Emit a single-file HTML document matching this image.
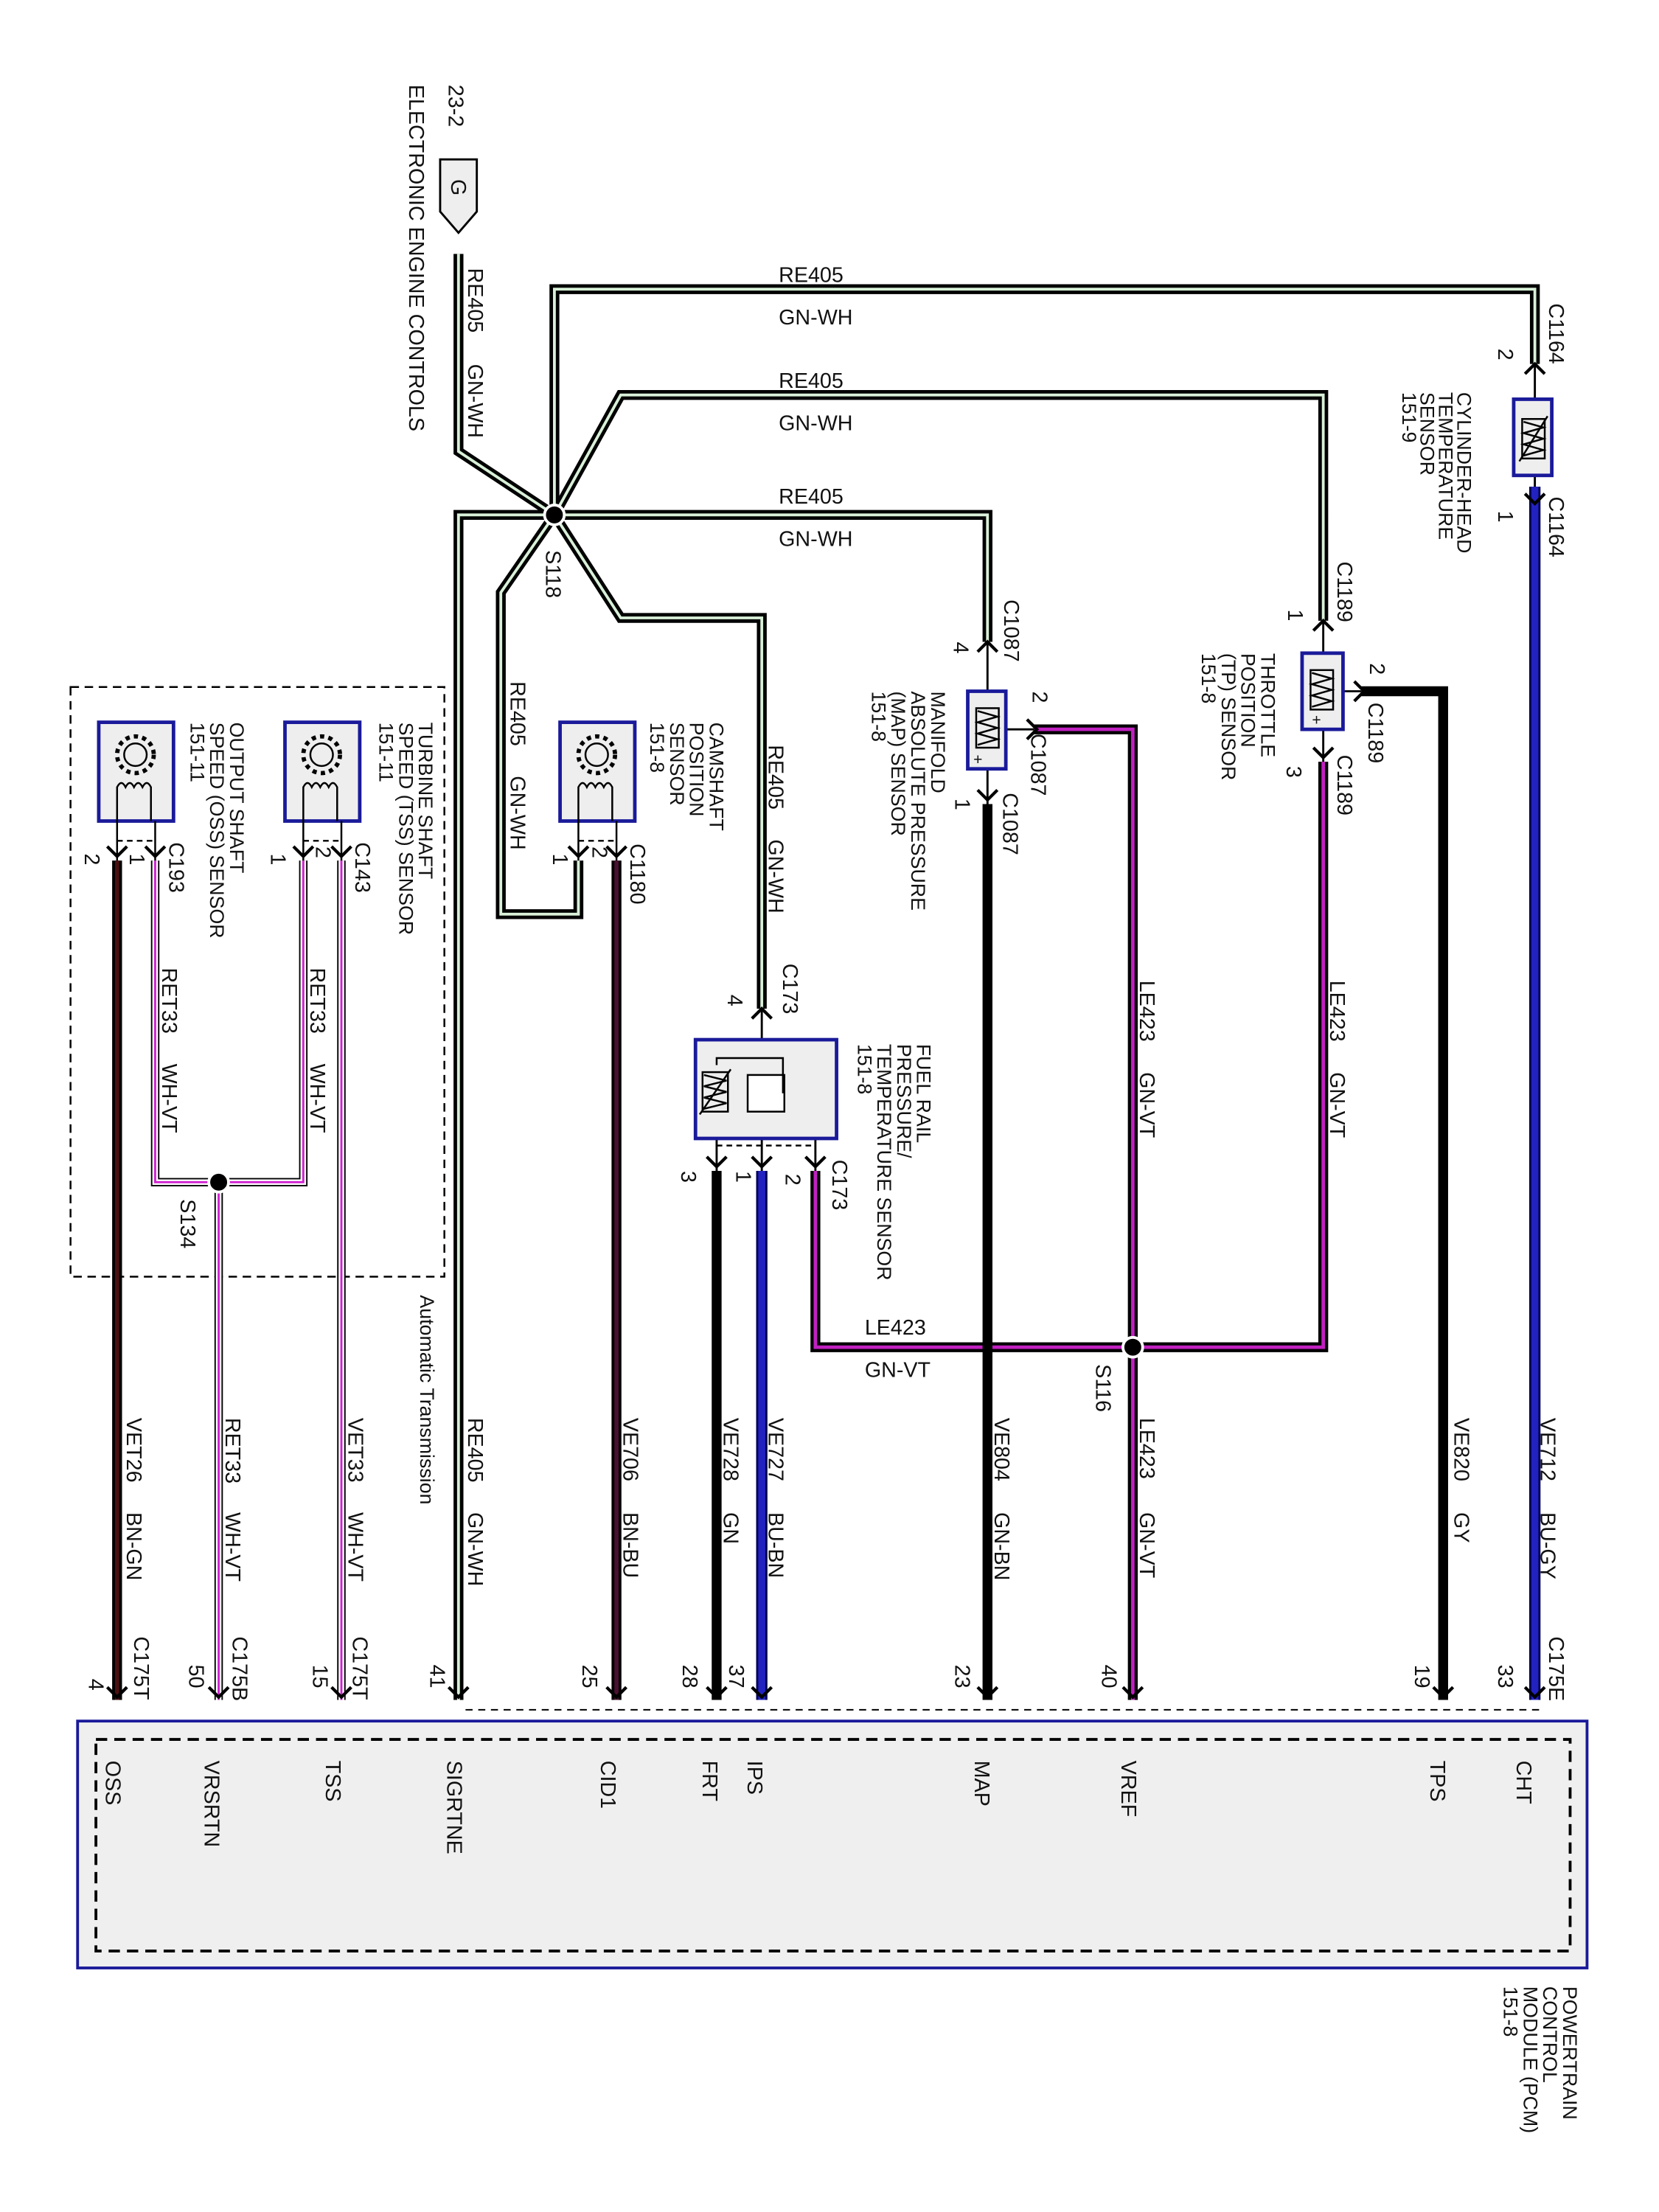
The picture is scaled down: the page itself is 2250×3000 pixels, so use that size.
<!DOCTYPE html>
<html><head><meta charset="utf-8"><style>
html,body{margin:0;padding:0;background:#fff}
svg{display:block}
text{font-family:"Liberation Sans",Arial,sans-serif;fill:#111}
.s{font-size:14px}.w{font-size:15px}
</style></head><body>
<svg width="2250" height="3000" viewBox="0 0 1176 1568" preserveAspectRatio="xMinYMin meet" xmlns="http://www.w3.org/2000/svg">
<rect width="1176" height="1568" fill="#fff"/>

<!-- PCM -->
<rect x="55" y="1220" width="1070" height="175" fill="#efefef" stroke="#1a1a9a" stroke-width="2"/>
<rect x="68" y="1233" width="1045" height="150" fill="none" stroke="#000" stroke-width="2" stroke-dasharray="8 5"/>
<line x1="330" y1="1212" x2="1095" y2="1212" stroke="#000" stroke-width="1" stroke-dasharray="5 4"/>

<!-- transmission dashed box -->
<rect x="50" y="487" width="265" height="418" fill="none" stroke="#000" stroke-width="1.3" stroke-dasharray="6 4"/>

<g fill="none" stroke-linejoin="miter">
<g stroke="#000" stroke-width="7">
<polyline points="325,180 325,320 393,365"/>
<polyline points="393,365 393,205 1088,205 1088,258"/>
<polyline points="393,365 440,280 938,280 938,440"/>
<polyline points="700,455 700,365 325,365 325,1205"/>
<polyline points="393,365 355,420 355,648 410,648 410,610"/>
<polyline points="393,365 440,438 540,438 540,715"/>
</g>
<g stroke="#d8f0d8" stroke-width="2">
<polyline points="325,180 325,320 393,365"/>
<polyline points="393,365 393,205 1088,205 1088,258"/>
<polyline points="393,365 440,280 938,280 938,440"/>
<polyline points="700,455 700,365 325,365 325,1205"/>
<polyline points="393,365 355,420 355,648 410,648 410,610"/>
<polyline points="393,365 440,438 540,438 540,715"/>
</g>
<g stroke="#000" stroke-width="7">
<polyline points="938,540 938,955 578,955 578,830"/>
<polyline points="733,517 803,517 803,1205"/>
</g>
<g stroke="#c020c0" stroke-width="2.5">
<polyline points="938,540 938,955 578,955 578,830"/>
<polyline points="733,517 803,517 803,1205"/>
</g>
<line x1="1088" y1="345" x2="1088" y2="1205" stroke="#000050" stroke-width="8"/>
<line x1="1088" y1="345" x2="1088" y2="1205" stroke="#2222c0" stroke-width="5"/>
<line x1="540" y1="830" x2="540" y2="1205" stroke="#000050" stroke-width="8"/>
<line x1="540" y1="830" x2="540" y2="1205" stroke="#2222c0" stroke-width="5"/>
<polyline points="965,490 1023,490 1023,1205" stroke="#000" stroke-width="7"/>
<line x1="700" y1="570" x2="700" y2="1205" stroke="#000" stroke-width="7"/>
<line x1="508" y1="830" x2="508" y2="1205" stroke="#000" stroke-width="7"/>
<line x1="437" y1="610" x2="437" y2="1205" stroke="#000" stroke-width="7"/>
<line x1="437" y1="610" x2="437" y2="1205" stroke="#4a1030" stroke-width="3"/>
<line x1="83" y1="610" x2="83" y2="1205" stroke="#000" stroke-width="7"/>
<line x1="83" y1="610" x2="83" y2="1205" stroke="#4a1010" stroke-width="3"/>
<g stroke="#000" stroke-width="6">
<line x1="242" y1="610" x2="242" y2="1205"/>
<polyline points="215,610 215,838 110,838 110,610"/>
<line x1="155" y1="838" x2="155" y2="1205"/>
</g>
<g stroke="#fff" stroke-width="4">
<line x1="242" y1="610" x2="242" y2="1205"/>
<polyline points="215,610 215,838 110,838 110,610"/>
<line x1="155" y1="838" x2="155" y2="1205"/>
</g>
<g stroke="#d020d0" stroke-width="1.5">
<line x1="242" y1="610" x2="242" y2="1205"/>
<polyline points="215,610 215,838 110,838 110,610"/>
<line x1="155" y1="838" x2="155" y2="1205"/>
</g>
<g stroke="#000" stroke-width="1.5">
<line x1="1088" y1="258" x2="1088" y2="345"/>
<line x1="938" y1="440" x2="938" y2="540"/>
<line x1="952" y1="490" x2="965" y2="490"/>
<line x1="700" y1="455" x2="700" y2="570"/>
<line x1="713" y1="517" x2="733" y2="517"/>
<line x1="540" y1="715" x2="540" y2="762"/>
<line x1="540" y1="788" x2="540" y2="830"/>
<polyline points="555,775 578,775 578,830"/>
<polyline points="508,760 508,830"/>
</g>
</g>

<circle cx="393" cy="365" r="7" fill="#000" stroke="#fff" stroke-width="2"/>
<circle cx="803" cy="955" r="7" fill="#000" stroke="#fff" stroke-width="2"/>
<circle cx="155" cy="838" r="7" fill="#000" stroke="#fff" stroke-width="2"/>

<polygon points="312,113 338,113 338,150 325,165 312,150" fill="#eee" stroke="#000" stroke-width="1.5"/>
<text class="w" transform="translate(320,127) rotate(90)">G</text>

<g fill="#eee" stroke="#1a1a9a" stroke-width="2.5">
<rect x="1073" y="283" width="27" height="54"/>
<rect x="923" y="463" width="29" height="54"/>
<rect x="686" y="490" width="27" height="55"/>
<rect x="493" y="737" width="100" height="70"/>
<rect x="397" y="512" width="53" height="70"/>
<rect x="202" y="512" width="53" height="70"/>
<rect x="70" y="512" width="53" height="70"/>
</g>
<g fill="none" stroke="#000" stroke-width="1.3">
<rect x="1079" y="297" width="16" height="28"/><polyline points="1080,299 1094,303 1080,307 1094,311 1080,315 1094,319 1080,323"/><line x1="1077" y1="327" x2="1097" y2="295"/>
<rect x="929" y="475" width="16" height="28"/><polyline points="930,477 944,481 930,485 944,489 930,493 944,497 930,501"/>
<rect x="692" y="502" width="16" height="28"/><polyline points="693,504 707,508 693,512 707,516 693,520 707,524 693,528"/>
<rect x="498" y="760" width="18" height="28"/><polyline points="499,762 515,766 499,770 515,774 499,778 515,782 499,786"/><line x1="496" y1="790" x2="518" y2="758"/>
<rect x="530" y="762" width="26" height="26" fill="#fff"/>
<polyline points="508,755 508,750 555,750 555,775"/>
</g>
<g class="s"><text x="930" y="514" font-size="11">+</text><text x="690" y="542" font-size="11">+</text></g>
<g fill="none" stroke="#000" stroke-width="1.3">
<circle cx="423" cy="535" r="8"/><circle cx="423" cy="535" r="13" stroke-width="3" stroke-dasharray="3 3"/>
<path d="M410 582 V558 q3,-6 6,0 q3,-6 6,0 q3,-6 6,0 q3,-6 6,0 V582"/>
<circle cx="228" cy="535" r="8"/><circle cx="228" cy="535" r="13" stroke-width="3" stroke-dasharray="3 3"/>
<path d="M215 582 V558 q3,-6 6,0 q3,-6 6,0 q3,-6 6,0 q3,-6 6,0 V582"/>
<circle cx="96" cy="535" r="8"/><circle cx="96" cy="535" r="13" stroke-width="3" stroke-dasharray="3 3"/>
<path d="M83 582 V558 q3,-6 6,0 q3,-6 6,0 q3,-6 6,0 q3,-6 6,0 V582"/>
<g stroke-dasharray="4 3"><line x1="410" y1="596" x2="437" y2="596"/><line x1="215" y1="596" x2="242" y2="596"/><line x1="83" y1="596" x2="110" y2="596"/><line x1="508" y1="812" x2="578" y2="812"/></g>
<line x1="410" y1="582" x2="410" y2="610"/><line x1="437" y1="582" x2="437" y2="610"/>
<line x1="215" y1="582" x2="215" y2="610"/><line x1="242" y1="582" x2="242" y2="610"/>
<line x1="83" y1="582" x2="83" y2="610"/><line x1="110" y1="582" x2="110" y2="610"/>
</g>

<g fill="none" stroke="#000" stroke-width="2.2">
<path d="M403 600 l7 7 l7 -7 M430 600 l7 7 l7 -7 M208 600 l7 7 l7 -7 M235 600 l7 7 l7 -7 M76 600 l7 7 l7 -7 M103 600 l7 7 l7 -7"/>
<path d="M501 820 l7 7 l7 -7 M533 820 l7 7 l7 -7 M571 820 l7 7 l7 -7"/>
<path d="M693 560 l7 7 l7 -7 M931 530 l7 7 l7 -7 M1081 350 l7 7 l7 -7"/>
<path d="M1081 1196 l7 7 l7 -7 M1016 1196 l7 7 l7 -7 M796 1196 l7 7 l7 -7 M693 1196 l7 7 l7 -7 M533 1196 l7 7 l7 -7 M501 1196 l7 7 l7 -7 M430 1196 l7 7 l7 -7 M318 1196 l7 7 l7 -7 M235 1196 l7 7 l7 -7 M148 1196 l7 7 l7 -7 M76 1196 l7 7 l7 -7"/>
<path d="M1081 265 l7 -7 l7 7 M931 447 l7 -7 l7 7 M693 462 l7 -7 l7 7 M533 722 l7 -7 l7 7"/>
<path d="M960 483 l7 7 l-7 7 M728 510 l7 7 l-7 7"/>
</g>

<g class="w">
<text transform="translate(318,60) rotate(90)">23-2</text>
<text transform="translate(290,60) rotate(90)">ELECTRONIC ENGINE CONTROLS</text>
<text transform="translate(332,190) rotate(90)">RE405</text>
<text transform="translate(332,258) rotate(90)">GN-WH</text>
<text x="552" y="200">RE405</text><text x="552" y="230">GN-WH</text>
<text x="552" y="275">RE405</text><text x="552" y="305">GN-WH</text>
<text x="552" y="357">RE405</text><text x="552" y="387">GN-WH</text>
<text transform="translate(387,390) rotate(90)">S118</text>
<text transform="translate(362,483) rotate(90)">RE405</text>
<text transform="translate(362,550) rotate(90)">GN-WH</text>
<text transform="translate(545,528) rotate(90)">RE405</text>
<text transform="translate(545,595) rotate(90)">GN-WH</text>

<text transform="translate(1098,215) rotate(90)">C1164</text>
<text transform="translate(1062,247) rotate(90)">2</text>
<text transform="translate(1062,362) rotate(90)">1</text>
<text transform="translate(1098,352) rotate(90)">C1164</text>
<text transform="translate(948,398) rotate(90)">C1189</text>
<text transform="translate(913,432) rotate(90)">1</text>
<text transform="translate(971,470) rotate(90)">2</text>
<text transform="translate(970,498) rotate(90)">C1189</text>
<text transform="translate(912,543) rotate(90)">3</text>
<text transform="translate(948,535) rotate(90)">C1189</text>
<text transform="translate(712,425) rotate(90)">C1087</text>
<text transform="translate(676,455) rotate(90)">4</text>
<text transform="translate(732,490) rotate(90)">2</text>
<text transform="translate(731,520) rotate(90)">C1087</text>
<text transform="translate(677,566) rotate(90)">1</text>
<text transform="translate(711,562) rotate(90)">C1087</text>
<text transform="translate(447,598) rotate(90)">C1180</text>
<text transform="translate(420,600) rotate(90)">2</text>
<text transform="translate(392,605) rotate(90)">1</text>
<text transform="translate(555,683) rotate(90)">C173</text>
<text transform="translate(516,705) rotate(90)">4</text>
<text transform="translate(590,822) rotate(90)">C173</text>
<text transform="translate(557,832) rotate(90)">2</text>
<text transform="translate(522,830) rotate(90)">1</text>
<text transform="translate(483,830) rotate(90)">3</text>
<text transform="translate(252,597) rotate(90)">C143</text>
<text transform="translate(224,600) rotate(90)">2</text>
<text transform="translate(192,605) rotate(90)">1</text>
<text transform="translate(120,597) rotate(90)">C193</text>
<text transform="translate(92,605) rotate(90)">1</text>
<text transform="translate(60,605) rotate(90)">2</text>
<text transform="translate(115,686) rotate(90)">RET33</text>
<text transform="translate(115,754) rotate(90)">WH-VT</text>
<text transform="translate(220,686) rotate(90)">RET33</text>
<text transform="translate(220,754) rotate(90)">WH-VT</text>
<text transform="translate(128,850) rotate(90)">S134</text>
<text transform="translate(298,918) rotate(90)" font-size="14">Automatic Transmission</text>
<text transform="translate(777,967) rotate(90)">S116</text>
<text x="613" y="946">LE423</text><text x="613" y="976">GN-VT</text>
<text transform="translate(808,695) rotate(90)">LE423</text>
<text transform="translate(808,760) rotate(90)">GN-VT</text>
<text transform="translate(943,695) rotate(90)">LE423</text>
<text transform="translate(943,760) rotate(90)">GN-VT</text>

<text transform="translate(1092,1005) rotate(90)">VE712</text><text transform="translate(1092,1072) rotate(90)">BU-GY</text>
<text transform="translate(1031,1005) rotate(90)">VE820</text><text transform="translate(1031,1072) rotate(90)">GY</text>
<text transform="translate(808,1005) rotate(90)">LE423</text><text transform="translate(808,1072) rotate(90)">GN-VT</text>
<text transform="translate(705,1005) rotate(90)">VE804</text><text transform="translate(705,1072) rotate(90)">GN-BN</text>
<text transform="translate(545,1005) rotate(90)">VE727</text><text transform="translate(545,1072) rotate(90)">BU-BN</text>
<text transform="translate(513,1005) rotate(90)">VE728</text><text transform="translate(513,1072) rotate(90)">GN</text>
<text transform="translate(442,1005) rotate(90)">VE706</text><text transform="translate(442,1072) rotate(90)">BN-BU</text>
<text transform="translate(332,1005) rotate(90)">RE405</text><text transform="translate(332,1072) rotate(90)">GN-WH</text>
<text transform="translate(247,1005) rotate(90)">VET33</text><text transform="translate(247,1072) rotate(90)">WH-VT</text>
<text transform="translate(160,1005) rotate(90)">RET33</text><text transform="translate(160,1072) rotate(90)">WH-VT</text>
<text transform="translate(90,1005) rotate(90)">VET26</text><text transform="translate(90,1072) rotate(90)">BN-GN</text>

<text transform="translate(1098,1160) rotate(90)">C175E</text>
<text transform="translate(250,1160) rotate(90)">C175T</text>
<text transform="translate(165,1160) rotate(90)">C175B</text>
<text transform="translate(95,1160) rotate(90)">C175T</text>
<text transform="translate(1062,1180) rotate(90)">33</text>
<text transform="translate(1003,1180) rotate(90)">19</text>
<text transform="translate(781,1180) rotate(90)">40</text>
<text transform="translate(677,1180) rotate(90)">23</text>
<text transform="translate(517,1180) rotate(90)">37</text>
<text transform="translate(484,1180) rotate(90)">28</text>
<text transform="translate(413,1180) rotate(90)">25</text>
<text transform="translate(305,1180) rotate(90)">41</text>
<text transform="translate(222,1180) rotate(90)">15</text>
<text transform="translate(134,1180) rotate(90)">50</text>
<text transform="translate(63,1190) rotate(90)">4</text>

<text transform="translate(1075,1248) rotate(90)">CHT</text>
<text transform="translate(1014,1248) rotate(90)">TPS</text>
<text transform="translate(795,1248) rotate(90)">VREF</text>
<text transform="translate(691,1248) rotate(90)">MAP</text>
<text transform="translate(530,1248) rotate(90)">IPS</text>
<text transform="translate(498,1248) rotate(90)">FRT</text>
<text transform="translate(426,1248) rotate(90)">CID1</text>
<text transform="translate(317,1248) rotate(90)">SIGRTNE</text>
<text transform="translate(231,1248) rotate(90)">TSS</text>
<text transform="translate(145,1248) rotate(90)">VRSRTN</text>
<text transform="translate(75,1248) rotate(90)">OSS</text>
</g>
<g class="s">
<text transform="translate(1033,278) rotate(90)">CYLINDER-HEAD</text>
<text transform="translate(1020,278) rotate(90)">TEMPERATURE</text>
<text transform="translate(1007,278) rotate(90)">SENSOR</text>
<text transform="translate(994,278) rotate(90)">151-9</text>
<text transform="translate(894,463) rotate(90)">THROTTLE</text>
<text transform="translate(880,463) rotate(90)">POSITION</text>
<text transform="translate(866,463) rotate(90)">(TP) SENSOR</text>
<text transform="translate(852,463) rotate(90)">151-8</text>
<text transform="translate(660,490) rotate(90)">MANIFOLD</text>
<text transform="translate(646,490) rotate(90)">ABSOLUTE PRESSURE</text>
<text transform="translate(632,490) rotate(90)">(MAP) SENSOR</text>
<text transform="translate(618,490) rotate(90)">151-8</text>
<text transform="translate(503,512) rotate(90)">CAMSHAFT</text>
<text transform="translate(489,512) rotate(90)">POSITION</text>
<text transform="translate(475,512) rotate(90)">SENSOR</text>
<text transform="translate(461,512) rotate(90)">151-8</text>
<text transform="translate(650,740) rotate(90)">FUEL RAIL</text>
<text transform="translate(636,740) rotate(90)">PRESSURE/</text>
<text transform="translate(622,740) rotate(90)">TEMPERATURE SENSOR</text>
<text transform="translate(608,740) rotate(90)">151-8</text>
<text transform="translate(297,512) rotate(90)">TURBINE SHAFT</text>
<text transform="translate(283,512) rotate(90)">SPEED (TSS)  SENSOR</text>
<text transform="translate(269,512) rotate(90)">151-11</text>
<text transform="translate(163,512) rotate(90)">OUTPUT SHAFT</text>
<text transform="translate(149,512) rotate(90)">SPEED (OSS)  SENSOR</text>
<text transform="translate(135,512) rotate(90)">151-11</text>
<text transform="translate(1108,1408) rotate(90)">POWERTRAIN</text>
<text transform="translate(1094,1408) rotate(90)">CONTROL</text>
<text transform="translate(1080,1408) rotate(90)">MODULE (PCM)</text>
<text transform="translate(1066,1408) rotate(90)">151-8</text>
</g>
</svg>
</body></html>
